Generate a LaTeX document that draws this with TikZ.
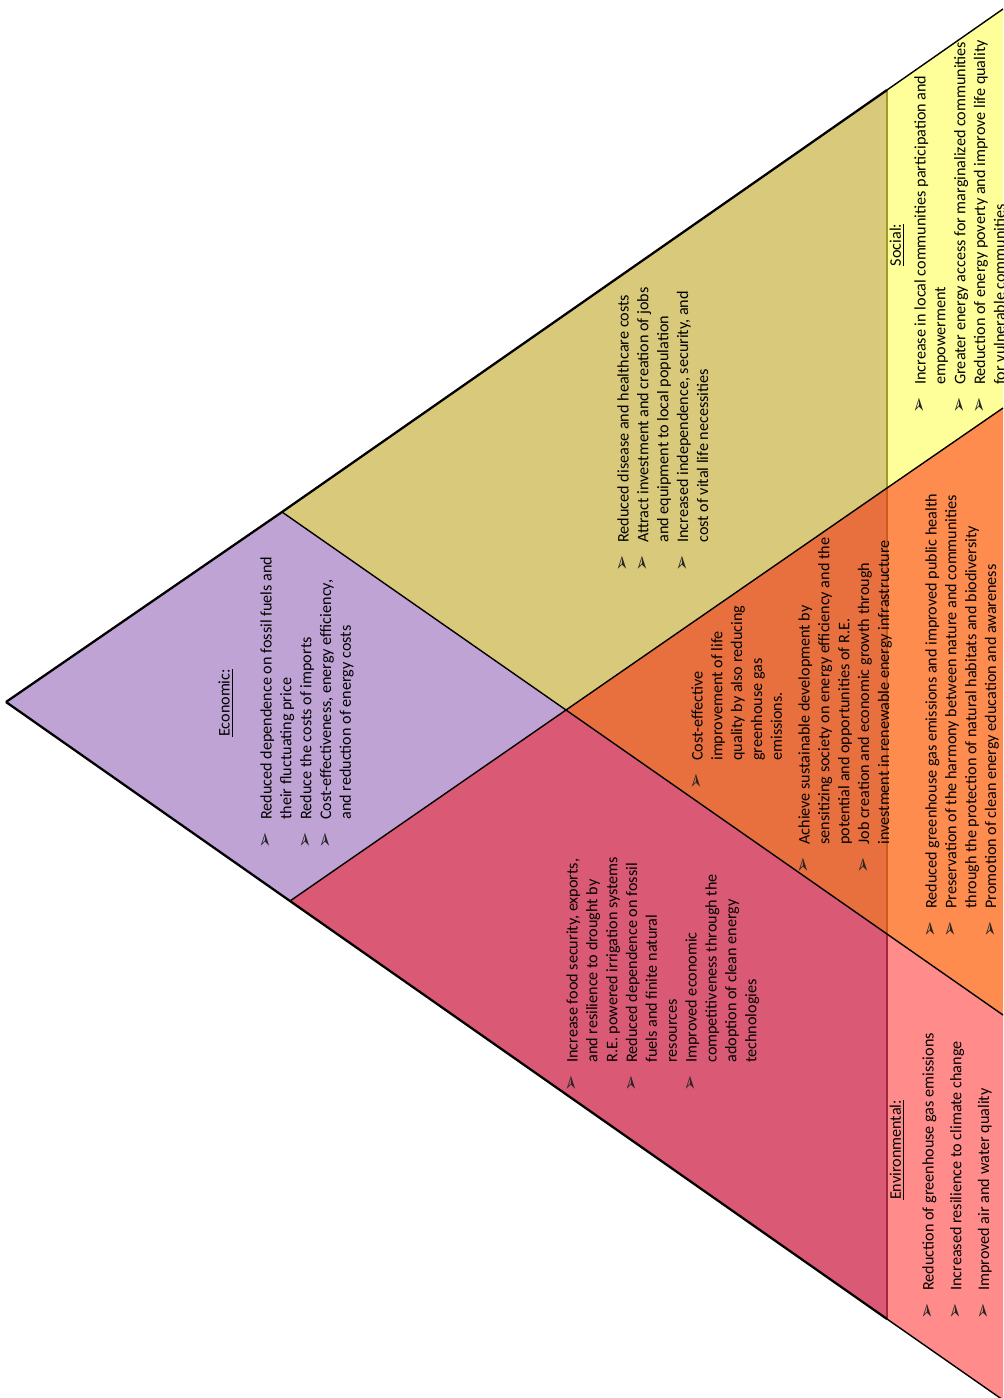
\documentclass[tikz,border=0pt]{standalone}
\usepackage{fontspec}
\setmainfont{Carlito}
\newfontfamily\dejavu{DejaVu Sans}
\usepackage{xcolor}
\definecolor{econpurple}{RGB}{192,163,213}
\definecolor{econsocial}{RGB}{217,201,122}
\definecolor{socialyellow}{RGB}{255,255,153}
\definecolor{allorange}{RGB}{232,112,63}
\definecolor{socenvorange}{RGB}{255,140,79}
\definecolor{econenvrose}{RGB}{218,90,118}
\definecolor{envpink}{RGB}{255,139,139}
\definecolor{lineolive}{RGB}{160,154,42}
\definecolor{linebrown}{RGB}{200,90,26}
\definecolor{linered}{RGB}{160,40,58}
\usetikzlibrary{calc}
\newlength{\bhang}
\setlength{\bhang}{16.5pt}
\newcommand{\bul}{{\dejavu\color{black!85}\fontsize{11}{11}\selectfont ➢}}
\newcommand{\itm}[1]{\noindent\hangindent=\bhang\hangafter=1\makebox[\bhang][l]{\bul}#1\par}
\tikzset{
  blk/.style={rotate=90, anchor=north west, inner sep=0pt, text width=#1, align=flush left,
    font=\fontsize{9.2}{11.3}\selectfont\setlength{\parskip}{0pt}},
  ttl/.style={rotate=90, inner sep=0pt, font=\fontsize{9.2}{11.3}\selectfont},
  edge/.style={line width=1.3pt, black},
  cut/.style={line width=0.8pt, black}
}
\begin{document}
\begin{tikzpicture}[x=0.02cm, y=-0.02cm]
  \useasboundingbox (0,0) rectangle (1003,1398);
  % Corner points
  \coordinate (apex) at (6,702);
  \coordinate (ptop) at (282,512);
  \coordinate (mid) at (566,710);
  \coordinate (pbot) at (290,901);
  \coordinate (vtop) at (887,90);
  \coordinate (vsoc) at (887,488);
  \coordinate (venv) at (887,934);
  \coordinate (vbot) at (887,1319);
  \coordinate (rtop) at (1003,9);
  \coordinate (rsoc) at (1003,408);
  \coordinate (renv) at (1003,1015);
  \coordinate (rbot) at (1003,1400);
  % Regions
  \fill[econpurple] (apex) -- (ptop) -- (mid) -- (pbot) -- cycle;
  \fill[econsocial] (ptop) -- (vtop) -- (vsoc) -- (mid) -- cycle;
  \fill[socialyellow] (vtop) -- (rtop) -- (rsoc) -- (vsoc) -- cycle;
  \fill[allorange] (mid) -- (vsoc) -- (venv) -- cycle;
  \fill[socenvorange] (vsoc) -- (rsoc) -- (renv) -- (venv) -- cycle;
  \fill[econenvrose] (pbot) -- (mid) -- (venv) -- (vbot) -- cycle;
  \fill[envpink] (venv) -- (renv) -- (rbot) -- (vbot) -- cycle;
  % Dividing lines
  \draw[line width=1.2pt, lineolive] (vtop) -- (vsoc);
  \draw[line width=1.2pt, linebrown] (vsoc) -- (venv);
  \draw[line width=1.2pt, linered] (venv) -- (vbot);
  \draw[cut] (ptop) -- (mid) -- (venv) -- (renv);
  \draw[cut] (pbot) -- (mid) -- (vsoc) -- (rsoc);
  \draw[edge] (apex) -- (ptop) -- (vtop);
  \draw[edge] (apex) -- (pbot) -- (vbot);
  \draw[cut] (vtop) -- (rtop);
  \draw[cut] (vbot) -- (rbot);
  % Titles
  \node[ttl] (econ) at (226,703) {\underline{Economic:}};
  \node[ttl] (social) at (897,245) {\underline{Social:}};
  \node[ttl] (env) at (897,1150) {\underline{Environmental:}};
  % Texts
  \node[blk=9cm] (econtxt) at (260,849) {\itm{Reduced dependence on fossil fuels and\newline their fluctuating price}\itm{Reduce the costs of imports}\itm{Cost-effectiveness, energy efficiency,\newline and reduction of energy costs}};
  \node[blk=9cm] (econsoctxt) at (617,572) {\itm{Reduced disease and healthcare costs}\itm{Attract investment and creation of jobs\newline and equipment to local population}\itm{Increased independence, security, and\newline cost of vital life necessities}};
  \node[blk=12cm] (soctxt) at (914,414) {\itm{Increase in local communities participation and\newline empowerment}\itm{Greater energy access for marginalized communities}\itm{Reduction of energy poverty and improve life quality\newline for vulnerable communities}};
  \node[blk=6cm] (alltxt) at (691,790) {\itm{Cost-effective\newline improvement of life\newline quality by also reducing\newline greenhouse gas\newline emissions.}};
  \node[blk=10cm] (alltxtb) at (798,874) {\itm{Achieve sustainable development by\newline sensitizing society on energy efficiency and the\newline potential and opportunities of R.E.}\itm{Job creation and economic growth through\newline investment in renewable energy infrastructure}};
  \node[blk=12cm] (socenvtxt) at (925,938) {\itm{Reduced greenhouse gas emissions and improved public health}\itm{Preservation of the harmony between nature and communities\newline through the protection of natural habitats and biodiversity}\itm{Promotion of clean energy education and awareness}};
  \node[blk=8cm] (econenvtxt) at (566,1092) {\itm{Increase food security, exports,\newline and resilience to drought by\newline R.E. powered irrigation systems}\itm{Reduced dependence on fossil\newline fuels and finite natural\newline resources}\itm{Improved economic\newline competitiveness through the\newline adoption of clean energy\newline technologies}};
  \node[blk=9cm, font=\fontsize{9.2}{11.3}\selectfont\setlength{\parskip}{4.5pt}] (envtxt) at (922,1320) {\itm{Reduction of greenhouse gas emissions}\itm{Increased resilience to climate change}\itm{Improved air and water quality}};
\end{tikzpicture}
\end{document}
